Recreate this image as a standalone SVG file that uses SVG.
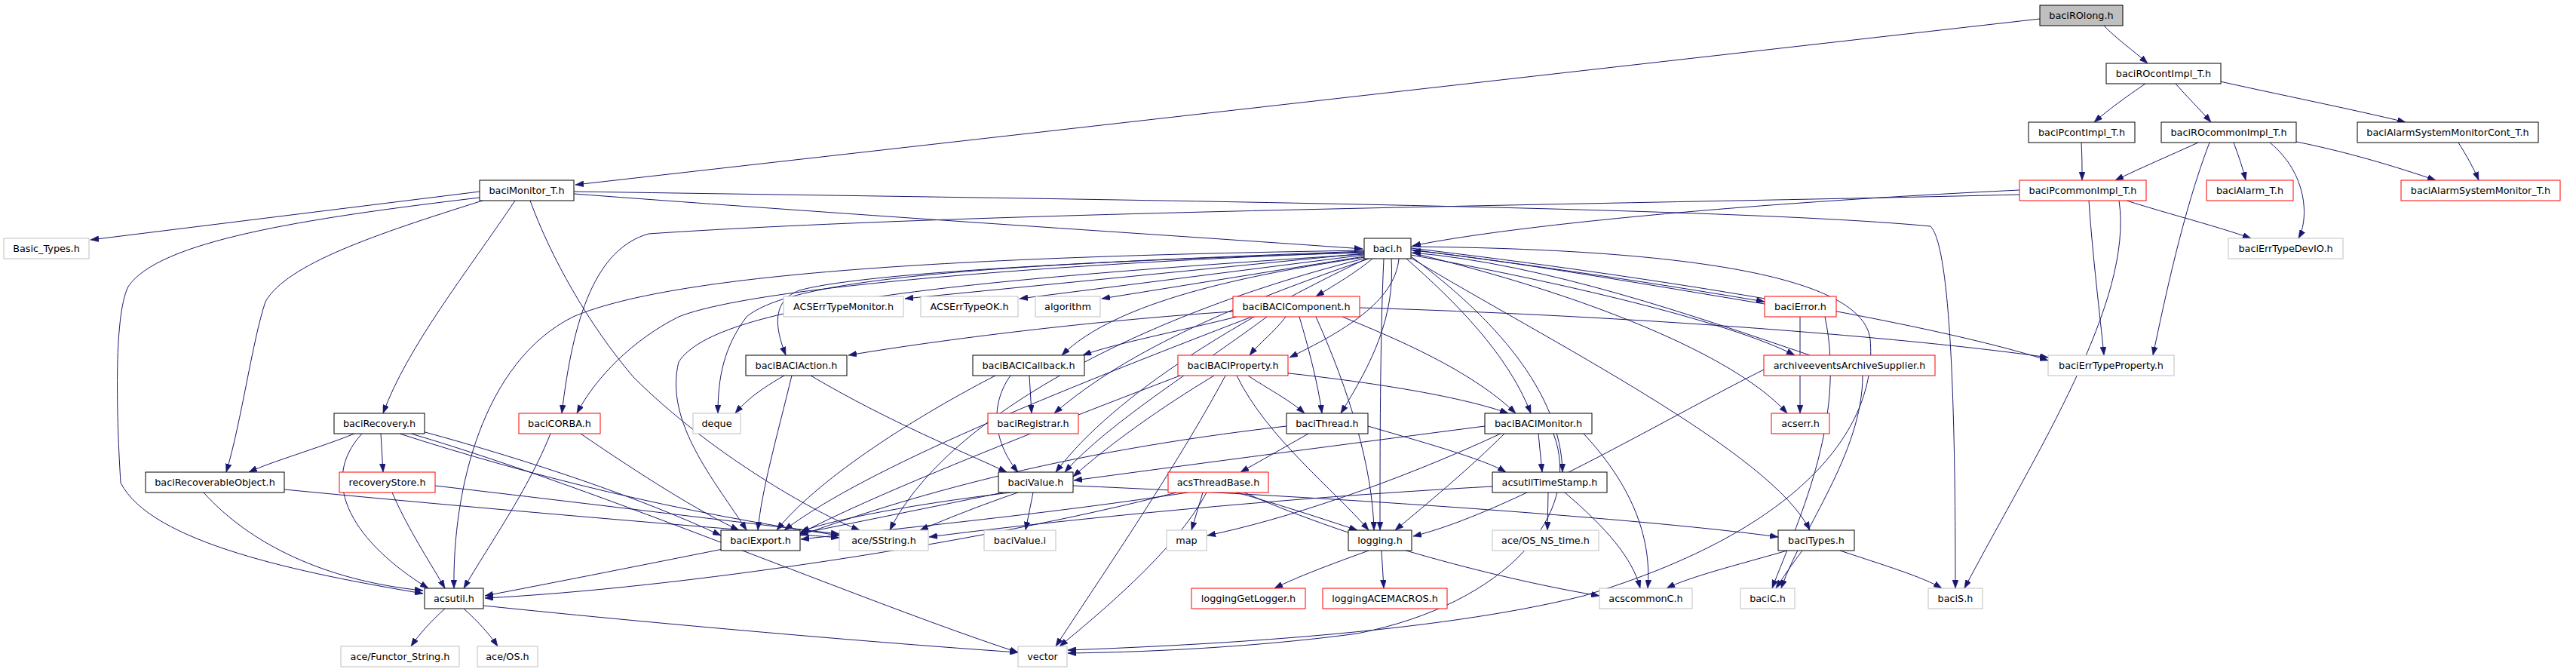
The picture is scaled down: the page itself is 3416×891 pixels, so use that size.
<svg xmlns="http://www.w3.org/2000/svg" width="3416" height="891" viewBox="0 0 3416 891">
<style>
.nd rect{fill:#ffffff;stroke:#000000;stroke-width:1}
.nd.g rect{stroke:#bfbfbf}
.nd.r rect{stroke:#ff0000}
.nd.root rect{fill:#bfbfbf;stroke:#000000}
.nd text{font-family:"DejaVu Sans","Liberation Sans",sans-serif;font-size:12.8px;text-anchor:middle;fill:#000000}
#edges path{fill:none;stroke:#191970;stroke-width:1;marker-end:url(#arr)}
</style>
<defs>
<marker id="arr" viewBox="0 0 11 8" refX="11" refY="4" markerWidth="11" markerHeight="8" orient="auto" markerUnits="userSpaceOnUse">
<path d="M0,0 L11,4 L0,8 z" fill="#191970" stroke="#191970" stroke-width="0.5"/>
</marker>
</defs>
<rect width="3416" height="891" fill="#ffffff"/>
<g id="edges">
<path d="M2705,25 L763,245"/>
<path d="M2790,34 C2805,50 2830,68 2848,84"/>
<path d="M2845,111 C2820,128 2795,146 2777,162"/>
<path d="M2885,111 C2900,128 2918,146 2932,162"/>
<path d="M2935,106 C3020,125 3120,145 3190,162"/>
<path d="M2760,189 C2761,205 2761,222 2761,239"/>
<path d="M2915,189 C2880,205 2840,222 2805,239"/>
<path d="M2962,189 C2968,205 2974,222 2978,239"/>
<path d="M3030,185 C3110,200 3180,222 3230,239"/>
<path d="M3010,189 C3060,230 3062,290 3048,316"/>
<path d="M2930,189 C2895,280 2870,400 2855,471"/>
<path d="M3260,189 C3270,205 3280,222 3287,239"/>
<path d="M2678,252 C2300,270 2000,300 1873,326"/>
<path d="M2820,266 C2880,285 2940,300 2985,316"/>
<path d="M2770,266 C2775,340 2785,420 2790,471"/>
<path d="M2810,266 C2830,400 2700,600 2605,780"/>
<path d="M2678,258 C2200,270 1300,280 860,310 C790,330 760,420 745,548"/>
<path d="M761,257 C1200,290 1600,315 1807,330"/>
<path d="M636,254 L120,318"/>
<path d="M683,266 C620,360 540,460 508,548"/>
<path d="M640,266 C500,310 380,350 352,400 C335,450 320,560 300,626"/>
<path d="M636,262 C400,290 210,320 170,380 C150,420 155,560 160,640 C200,720 400,760 561,787"/>
<path d="M703,266 C730,340 780,430 840,500 C940,600 1080,680 1140,703"/>
<path d="M761,254 C1500,265 2300,275 2560,300 C2590,330 2593,600 2593,780"/>
<path d="M1809,336 L1200,396"/>
<path d="M1809,338 L1352,396"/>
<path d="M1809,340 L1461,396"/>
<path d="M1820,343 C1800,360 1770,378 1745,393"/>
<path d="M1809,333 C1500,345 1150,360 1060,385 C1020,400 1030,440 1042,471"/>
<path d="M1810,341 C1650,365 1480,400 1408,471"/>
<path d="M1855,343 C1850,400 1780,440 1710,474"/>
<path d="M1809,334 C1400,350 1000,380 900,420 C840,450 790,500 765,548"/>
<path d="M1809,335 C1300,350 1050,370 990,420 C960,460 952,500 952,548"/>
<path d="M1815,343 C1650,400 1500,460 1398,548"/>
<path d="M1845,343 C1850,420 1820,480 1778,548"/>
<path d="M1865,343 C1930,400 2000,470 2030,548"/>
<path d="M1812,343 C1650,420 1480,520 1400,626"/>
<path d="M1809,337 C1300,370 950,400 900,480 C880,560 950,640 990,703"/>
<path d="M1812,342 C1500,420 1250,560 1180,703"/>
<path d="M1809,332 C1300,340 900,360 760,420 C640,480 600,650 602,780"/>
<path d="M1835,343 C1830,450 1830,600 1830,703"/>
<path d="M1871,340 C1980,420 2070,520 2072,626"/>
<path d="M1871,331 C2100,360 2250,385 2340,400"/>
<path d="M1871,335 C2100,390 2300,470 2370,548"/>
<path d="M1871,338 C2100,380 2300,430 2380,471"/>
<path d="M1871,342 C2050,450 2350,600 2400,703"/>
<path d="M1871,327 C2200,330 2470,360 2480,450 C2490,560 2400,700 2100,790 C1900,840 1600,855 1416,862"/>
<path d="M1871,329 C2300,380 2600,440 2716,478"/>
<path d="M2340,403 C2200,380 2000,345 1873,332"/>
<path d="M2400,471 C2250,420 2050,350 1873,335"/>
<path d="M1635,413 C1450,425 1250,450 1125,471"/>
<path d="M1640,420 C1560,440 1480,455 1436,471"/>
<path d="M1705,420 C1690,440 1670,455 1657,471"/>
<path d="M1723,420 C1735,460 1748,510 1753,548"/>
<path d="M1680,420 C1600,480 1470,560 1412,626"/>
<path d="M1745,420 C1790,520 1820,620 1822,703"/>
<path d="M1780,420 C1880,460 1960,500 2010,548"/>
<path d="M1803,408 C2200,420 2550,450 2716,474"/>
<path d="M1660,420 C1400,520 1150,620 1040,703"/>
<path d="M1040,498 C1010,515 990,530 975,548"/>
<path d="M1075,498 C1180,560 1280,600 1335,626"/>
<path d="M1050,498 C1030,580 1010,650 1005,703"/>
<path d="M1365,498 L1368,548"/>
<path d="M1340,498 C1310,540 1320,590 1350,626"/>
<path d="M1320,498 C1200,560 1080,640 1030,703"/>
<path d="M1655,498 C1680,515 1710,530 1730,548"/>
<path d="M1610,498 C1540,540 1470,590 1423,632"/>
<path d="M1700,494 C1850,510 1950,530 2000,548"/>
<path d="M1640,498 C1680,580 1770,650 1815,703"/>
<path d="M1625,498 C1560,620 1450,780 1400,857"/>
<path d="M1565,498 C1350,580 1150,660 1060,708"/>
<path d="M470,575 C420,595 360,612 330,626"/>
<path d="M505,575 L508,626"/>
<path d="M480,575 C420,640 470,720 568,780"/>
<path d="M530,575 C700,630 900,680 1113,710"/>
<path d="M560,572 C700,610 850,660 956,710"/>
<path d="M545,575 C800,650 1150,800 1350,865"/>
<path d="M520,653 C540,700 570,745 590,780"/>
<path d="M577,644 C800,670 1000,695 1113,708"/>
<path d="M270,653 C330,720 430,770 561,783"/>
<path d="M377,649 C700,680 950,700 1113,713"/>
<path d="M730,575 C700,650 650,720 615,780"/>
<path d="M770,575 C850,630 930,680 980,703"/>
<path d="M1735,575 C1700,595 1670,612 1645,626"/>
<path d="M1814,565 C1900,590 1970,610 1997,626"/>
<path d="M1706,565 C1400,600 1200,660 1061,710"/>
<path d="M2040,575 L2045,626"/>
<path d="M1995,575 C1950,620 1890,670 1850,703"/>
<path d="M2100,575 C2170,650 2190,720 2185,780"/>
<path d="M2060,575 C2100,680 2000,800 1800,840 C1650,860 1500,865 1416,866"/>
<path d="M1969,565 C1700,600 1550,620 1424,637"/>
<path d="M1990,575 C1850,640 1700,690 1601,710"/>
<path d="M1340,653 C1200,670 1100,690 1062,705"/>
<path d="M1350,653 C1300,670 1250,690 1220,703"/>
<path d="M1370,653 L1360,703"/>
<path d="M1423,644 C1800,660 2200,690 2358,712"/>
<path d="M1330,653 C1100,700 800,760 643,790"/>
<path d="M1560,653 C1300,720 900,780 643,793"/>
<path d="M1575,653 C1400,680 1200,700 1062,715"/>
<path d="M1640,653 C1700,670 1760,690 1800,703"/>
<path d="M1600,653 C1560,730 1450,820 1405,857"/>
<path d="M1650,653 C1800,720 2000,770 2121,790"/>
<path d="M1595,653 L1580,703"/>
<path d="M2053,653 L2052,703"/>
<path d="M2075,653 C2130,700 2165,740 2175,780"/>
<path d="M1979,645 C1700,660 1400,690 1232,712"/>
<path d="M1815,730 C1760,750 1720,765 1690,780"/>
<path d="M1832,730 L1835,780"/>
<path d="M2390,730 C2375,750 2365,765 2355,780"/>
<path d="M2370,730 C2300,750 2240,765 2210,780"/>
<path d="M2440,730 C2500,750 2550,765 2575,780"/>
<path d="M590,807 C570,825 555,842 545,857"/>
<path d="M615,807 C635,825 650,842 660,857"/>
<path d="M641,803 C900,830 1200,855 1350,865"/>
<path d="M2387,420 L2387,548"/>
<path d="M2420,420 C2450,560 2380,700 2350,780"/>
<path d="M2470,498 C2470,600 2390,700 2362,780"/>
<path d="M2339,490 C2200,560 2000,680 1874,711"/>
</g>
<g id="node_baciROlong" class="nd root"><rect x="2705" y="7" width="110" height="27"/><text x="2760" y="25.1">baciROlong.h</text></g>
<g id="node_baciROcontImpl_T" class="nd"><rect x="2793" y="84" width="152" height="27"/><text x="2869" y="102.1">baciROcontImpl_T.h</text></g>
<g id="node_baciPcontImpl_T" class="nd"><rect x="2690" y="162" width="141" height="27"/><text x="2760.5" y="180.1">baciPcontImpl_T.h</text></g>
<g id="node_baciROcommonImpl_T" class="nd"><rect x="2866" y="162" width="179" height="27"/><text x="2955.5" y="180.1">baciROcommonImpl_T.h</text></g>
<g id="node_baciAlarmSystemMonitorCont_T" class="nd"><rect x="3126" y="162" width="240" height="27"/><text x="3246" y="180.1">baciAlarmSystemMonitorCont_T.h</text></g>
<g id="node_baciMonitor_T" class="nd"><rect x="636" y="239" width="125" height="27"/><text x="698.5" y="257.1">baciMonitor_T.h</text></g>
<g id="node_baciPcommonImpl_T" class="nd r"><rect x="2678" y="239" width="168" height="27"/><text x="2762" y="257.1">baciPcommonImpl_T.h</text></g>
<g id="node_baciAlarm_T" class="nd r"><rect x="2926" y="239" width="115" height="27"/><text x="2983.5" y="257.1">baciAlarm_T.h</text></g>
<g id="node_baciAlarmSystemMonitor_T" class="nd r"><rect x="3184" y="239" width="211" height="27"/><text x="3289.5" y="257.1">baciAlarmSystemMonitor_T.h</text></g>
<g id="node_Basic_Types" class="nd g"><rect x="5" y="316" width="113" height="27"/><text x="61.5" y="334.1">Basic_Types.h</text></g>
<g id="node_baci" class="nd"><rect x="1809" y="316" width="62" height="27"/><text x="1840" y="334.1">baci.h</text></g>
<g id="node_baciErrTypeDevIO" class="nd g"><rect x="2955" y="316" width="152" height="27"/><text x="3031" y="334.1">baciErrTypeDevIO.h</text></g>
<g id="node_ACSErrTypeMonitor" class="nd g"><rect x="1039" y="393" width="159" height="27"/><text x="1118.5" y="411.1">ACSErrTypeMonitor.h</text></g>
<g id="node_ACSErrTypeOK" class="nd g"><rect x="1221" y="393" width="129" height="27"/><text x="1285.5" y="411.1">ACSErrTypeOK.h</text></g>
<g id="node_algorithm" class="nd g"><rect x="1373" y="393" width="86" height="27"/><text x="1416" y="411.1">algorithm</text></g>
<g id="node_baciBACIComponent" class="nd r"><rect x="1635" y="393" width="168" height="27"/><text x="1719" y="411.1">baciBACIComponent.h</text></g>
<g id="node_baciError" class="nd r"><rect x="2340" y="393" width="95" height="27"/><text x="2387.5" y="411.1">baciError.h</text></g>
<g id="node_baciBACIAction" class="nd"><rect x="989" y="471" width="134" height="27"/><text x="1056" y="489.1">baciBACIAction.h</text></g>
<g id="node_baciBACICallback" class="nd"><rect x="1290" y="471" width="148" height="27"/><text x="1364" y="489.1">baciBACICallback.h</text></g>
<g id="node_baciBACIProperty" class="nd r"><rect x="1562" y="471" width="146" height="27"/><text x="1635" y="489.1">baciBACIProperty.h</text></g>
<g id="node_archiveeventsArchiveSupplier" class="nd r"><rect x="2339" y="471" width="227" height="27"/><text x="2452.5" y="489.1">archiveeventsArchiveSupplier.h</text></g>
<g id="node_baciErrTypeProperty" class="nd g"><rect x="2716" y="471" width="167" height="27"/><text x="2799.5" y="489.1">baciErrTypeProperty.h</text></g>
<g id="node_baciRecovery" class="nd"><rect x="443" y="548" width="120" height="27"/><text x="503" y="566.1">baciRecovery.h</text></g>
<g id="node_baciCORBA" class="nd r"><rect x="688" y="548" width="108" height="27"/><text x="742" y="566.1">baciCORBA.h</text></g>
<g id="node_deque" class="nd g"><rect x="919" y="548" width="63" height="27"/><text x="950.5" y="566.1">deque</text></g>
<g id="node_baciRegistrar" class="nd r"><rect x="1310" y="548" width="120" height="27"/><text x="1370" y="566.1">baciRegistrar.h</text></g>
<g id="node_baciThread" class="nd"><rect x="1706" y="548" width="108" height="27"/><text x="1760" y="566.1">baciThread.h</text></g>
<g id="node_baciBACIMonitor" class="nd"><rect x="1969" y="548" width="142" height="27"/><text x="2040" y="566.1">baciBACIMonitor.h</text></g>
<g id="node_acserr" class="nd r"><rect x="2349" y="548" width="77" height="27"/><text x="2387.5" y="566.1">acserr.h</text></g>
<g id="node_baciRecoverableObject" class="nd"><rect x="193" y="626" width="184" height="27"/><text x="285" y="644.1">baciRecoverableObject.h</text></g>
<g id="node_recoveryStore" class="nd r"><rect x="450" y="626" width="127" height="27"/><text x="513.5" y="644.1">recoveryStore.h</text></g>
<g id="node_baciValue" class="nd"><rect x="1324" y="626" width="99" height="27"/><text x="1373.5" y="644.1">baciValue.h</text></g>
<g id="node_acsThreadBase" class="nd r"><rect x="1549" y="626" width="133" height="27"/><text x="1615.5" y="644.1">acsThreadBase.h</text></g>
<g id="node_acsutilTimeStamp" class="nd"><rect x="1979" y="626" width="152" height="27"/><text x="2055" y="644.1">acsutilTimeStamp.h</text></g>
<g id="node_baciExport" class="nd"><rect x="956" y="703" width="105" height="27"/><text x="1008.5" y="721.1">baciExport.h</text></g>
<g id="node_ace_SString" class="nd g"><rect x="1113" y="703" width="118" height="27"/><text x="1172" y="721.1">ace/SString.h</text></g>
<g id="node_baciValue_i" class="nd g"><rect x="1305" y="703" width="95" height="27"/><text x="1352.5" y="721.1">baciValue.i</text></g>
<g id="node_map" class="nd g"><rect x="1547" y="703" width="53" height="27"/><text x="1573.5" y="721.1">map</text></g>
<g id="node_logging" class="nd"><rect x="1788" y="703" width="84" height="27"/><text x="1830" y="721.1">logging.h</text></g>
<g id="node_ace_OS_NS_time" class="nd g"><rect x="1979" y="703" width="141" height="27"/><text x="2049.5" y="721.1">ace/OS_NS_time.h</text></g>
<g id="node_baciTypes" class="nd"><rect x="2358" y="703" width="101" height="27"/><text x="2408.5" y="721.1">baciTypes.h</text></g>
<g id="node_acsutil" class="nd"><rect x="563" y="780" width="78" height="27"/><text x="602" y="798.1">acsutil.h</text></g>
<g id="node_loggingGetLogger" class="nd r"><rect x="1580" y="780" width="151" height="27"/><text x="1655.5" y="798.1">loggingGetLogger.h</text></g>
<g id="node_loggingACEMACROS" class="nd r"><rect x="1754" y="780" width="165" height="27"/><text x="1836.5" y="798.1">loggingACEMACROS.h</text></g>
<g id="node_acscommonC" class="nd g"><rect x="2121" y="780" width="123" height="27"/><text x="2182.5" y="798.1">acscommonC.h</text></g>
<g id="node_baciC" class="nd g"><rect x="2308" y="780" width="72" height="27"/><text x="2344" y="798.1">baciC.h</text></g>
<g id="node_baciS" class="nd g"><rect x="2557" y="780" width="72" height="27"/><text x="2593" y="798.1">baciS.h</text></g>
<g id="node_ace_Functor_String" class="nd g"><rect x="452" y="857" width="157" height="27"/><text x="530.5" y="875.1">ace/Functor_String.h</text></g>
<g id="node_ace_OS" class="nd g"><rect x="633" y="857" width="80" height="27"/><text x="673" y="875.1">ace/OS.h</text></g>
<g id="node_vector" class="nd g"><rect x="1350" y="857" width="65" height="27"/><text x="1382.5" y="875.1">vector</text></g>
</svg>
